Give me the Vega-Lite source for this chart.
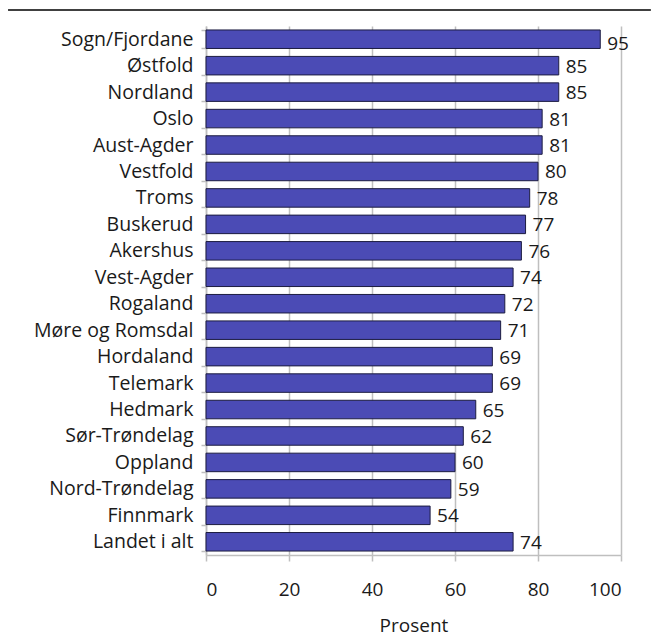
{
  "$schema": "https://vega.github.io/schema/vega-lite/v6.json",
  "padding": {"left": 7, "top": 9, "right": 6, "bottom": 0},
  "spacing": 5,
  "config": {
    "view": {"stroke": null},
    "font": "Open Sans",
    "axis": {"labelColor": "#1a1a1a", "titleColor": "#1a1a1a", "labelFont": "Open Sans", "titleFont": "Open Sans"}
  },
  "datasets": {
    "fylker": [
      {"fylke": "Sogn/Fjordane", "prosent": 95},
      {"fylke": "Østfold", "prosent": 85},
      {"fylke": "Nordland", "prosent": 85},
      {"fylke": "Oslo", "prosent": 81},
      {"fylke": "Aust-Agder", "prosent": 81},
      {"fylke": "Vestfold", "prosent": 80},
      {"fylke": "Troms", "prosent": 78},
      {"fylke": "Buskerud", "prosent": 77},
      {"fylke": "Akershus", "prosent": 76},
      {"fylke": "Vest-Agder", "prosent": 74},
      {"fylke": "Rogaland", "prosent": 72},
      {"fylke": "Møre og Romsdal", "prosent": 71},
      {"fylke": "Hordaland", "prosent": 69},
      {"fylke": "Telemark", "prosent": 69},
      {"fylke": "Hedmark", "prosent": 65},
      {"fylke": "Sør-Trøndelag", "prosent": 62},
      {"fylke": "Oppland", "prosent": 60},
      {"fylke": "Nord-Trøndelag", "prosent": 59},
      {"fylke": "Finnmark", "prosent": 54},
      {"fylke": "Landet i alt", "prosent": 74}
    ]
  },
  "vconcat": [
    {
      "width": 415,
      "height": 1,
      "data": {"values": [{"start": -47.7, "end": 107.2, "level": 0}]},
      "mark": {"type": "rule", "color": "#000000", "strokeWidth": 1.5, "clip": false},
      "encoding": {
        "x": {"field": "start", "type": "quantitative", "scale": {"domain": [0, 100], "nice": false}, "axis": null},
        "x2": {"field": "end"},
        "y": {"field": "level", "type": "quantitative", "scale": {"domain": [0, 1], "reverse": true}, "axis": null}
      }
    },
    {
      "width": 415,
      "height": 529,
      "data": {"name": "fylker"},
      "encoding": {
        "y": {
          "field": "fylke",
          "type": "nominal",
          "sort": null,
          "scale": {"paddingInner": 0.3, "paddingOuter": 0.15},
          "axis": {
            "title": null,
            "labelFontSize": 19.5,
            "labelPadding": 8,
            "tickSize": 5,
            "tickBand": "extent",
            "tickColor": "#bfbfbf",
            "tickWidth": 1.5,
            "domainColor": "#bfbfbf",
            "domainWidth": 1.5,
            "minExtent": 198
          }
        },
        "x": {
          "field": "prosent",
          "type": "quantitative",
          "scale": {"domain": [0, 100], "nice": false},
          "axis": {
            "title": "Prosent",
            "titleFontSize": 19,
            "titleFontWeight": "normal",
            "titlePadding": 17,
            "values": [0, 20, 40, 60, 80, 100],
            "labelFontSize": 19,
            "labelPadding": 19,
            "tickSize": 6,
            "tickColor": "#bfbfbf",
            "tickWidth": 1.5,
            "domainColor": "#bfbfbf",
            "domainWidth": 1.5,
            "grid": true,
            "gridColor": "#bfbfbf",
            "gridWidth": 1.5
          }
        }
      },
      "layer": [
        {
          "mark": {"type": "bar", "color": "#4b4bb5", "stroke": "#1c1c40", "strokeWidth": 1}
        },
        {
          "transform": [{"filter": "datum.prosent < 90"}],
          "mark": {"type": "text", "align": "left", "baseline": "middle", "dx": 7, "dy": 1, "fontSize": 19, "color": "#1a1a1a"},
          "encoding": {"text": {"field": "prosent", "type": "quantitative"}}
        },
        {
          "transform": [{"filter": "datum.prosent >= 90"}],
          "mark": {"type": "text", "align": "left", "baseline": "middle", "dx": 7, "dy": 5, "fontSize": 19, "color": "#1a1a1a"},
          "encoding": {"text": {"field": "prosent", "type": "quantitative"}}
        }
      ]
    }
  ]
}
